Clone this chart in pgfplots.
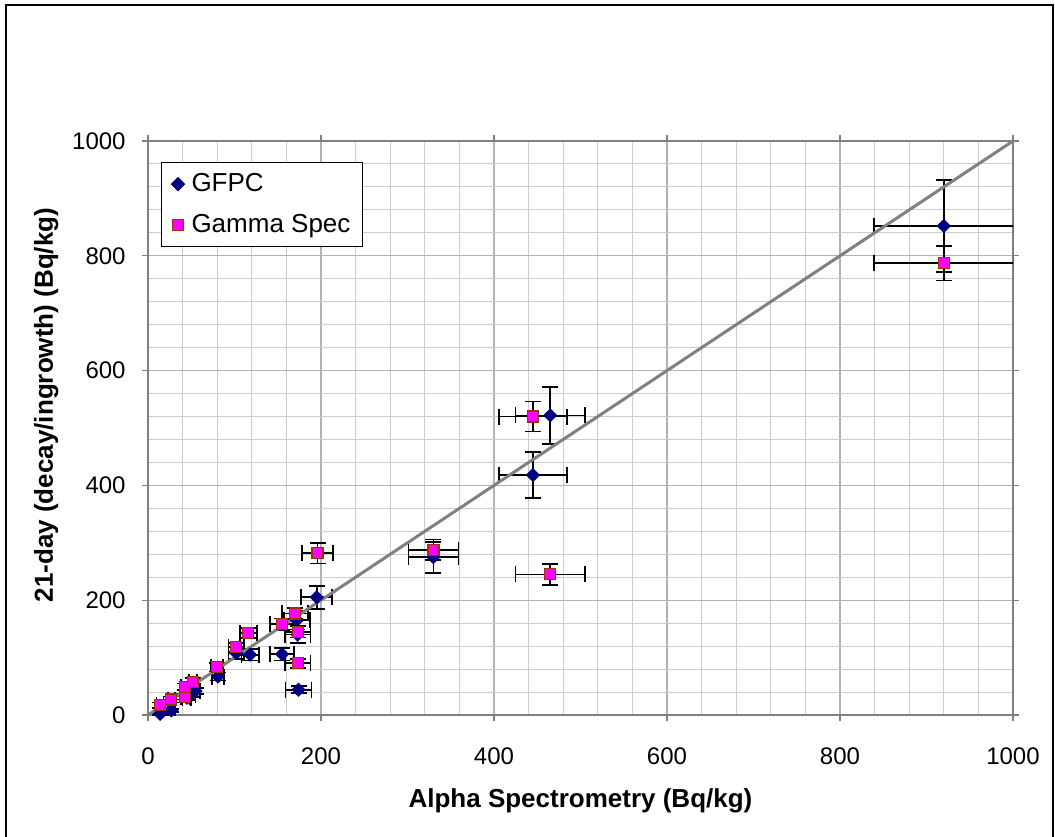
\documentclass[border=0pt]{standalone}
\usepackage{pgfplots}
\usepackage{pgfplotstable}
\pgfplotsset{compat=1.18}
\usepackage{fontspec}
\setmainfont{Liberation Sans}
\definecolor{gfpc}{HTML}{000080}
\definecolor{gmag}{HTML}{FF00FF}
\definecolor{gbrd}{HTML}{993300}

\pgfplotstableread{
x y ex ey
14 2 4 2
27 8 4 3
45 30 5 4
50 35 5 4
55 42 5 5
81 67 7 7
102 108 9 10
118 105 10 10
155 106 14 11
172 165 15 16
173 140 15 14
174 44 15 6
195 205 18 20
330 275 29 27
445 418 39 40
465 522 40 50
920 852 81 80
}\gfpcdata

\pgfplotstableread{
x y ex ey
14 17 4 5
27 27 4 5
43 32 5 5
43 49 5 6
52 58 5 6
80 83 7 7
102 118 9 8
116 143 10 9
155 158 14 10
170 177 15 10
173 145 15 10
173 90 15 8
196 282 18 18
330 288 29 18
445 520 39 26
465 245 40 18
920 787 81 30
}\gammadata

\begin{document}
\begin{tikzpicture}
\path[use as bounding box] (-74pt,-60.5pt) rectangle (453.5pt,357.5pt);
\draw[black, line width=1pt] (-71pt,-70pt) -- (-71pt,355pt) -- (452.5pt,355pt) -- (452.5pt,-70pt);
\begin{axis}[
  at={(0,0)}, anchor=south west, scale only axis,
  width=432.5pt, height=287pt,
  xmin=0, xmax=1000, ymin=0, ymax=1000,
  xtick={0,200,...,1000}, ytick={0,200,...,1000},
  minor tick num=4,
  grid=both,
  minor grid style={black!20, line width=0.5pt},
  major grid style={black!30, line width=0.55pt},
  axis line style={black!50, line width=1pt},
  tick align=outside, major tick length=3pt, minor tick length=0pt,
  tick style={black!50, line width=0.6pt},
  /pgf/number format/assume math mode=true,
  /pgf/number format/1000 sep={},
  ticklabel style={font=\fontsize{12}{14}\selectfont},
  xticklabel style={inner sep=0pt, anchor=north, yshift=-13pt},
  yticklabel style={inner sep=0pt, anchor=east, xshift=-8pt},
  xlabel={Alpha Spectrometry (Bq/kg)},
  ylabel={21-day (decay/ingrowth) (Bq/kg)},
  label style={font=\bfseries\fontsize{13}{15}\selectfont},
  xlabel style={at={(axis description cs:0.5,-0.162)}, anchor=base},
  ylabel style={at={(axis description cs:-0.11,0.54)}, anchor=base},
  legend style={at={(axis description cs:0,1)}, anchor=north west, xshift=6.5pt, yshift=-10.5pt,
    draw=black, line width=0.5pt, fill=white, font=\fontsize{13}{15}\selectfont,
    inner xsep=5pt, inner ysep=4.5pt, row sep=8pt, column sep=2.5pt, nodes={inner sep=1pt}},
  legend cell align=left,
]
\addplot[only marks, mark=square*, mark size=2.3pt,
  mark options={rotate=45, fill=gfpc, draw=gfpc},
  error bars/.cd, x dir=both, x explicit, y dir=both, y explicit,
  error bar style={black, line width=0.85pt},
  error mark options={rotate=90, black, mark size=4pt, line width=0.85pt}]
  table[x=x, y=y, x error=ex, y error=ey]{\gfpcdata};
\addlegendentry{GFPC}
\addplot[only marks, mark=square*, mark size=2.75pt,
  mark options={fill=gmag, draw=gbrd, line width=0.6pt},
  error bars/.cd, x dir=both, x explicit, y dir=both, y explicit,
  error bar style={black, line width=0.85pt},
  error mark options={rotate=90, black, mark size=4pt, line width=0.85pt}]
  table[x=x, y=y, x error=ex, y error=ey]{\gammadata};
\addlegendentry{Gamma Spec}
\addplot[black!50, line width=1.5pt, forget plot] coordinates {(0,0) (1000,1000)};
\end{axis}
\end{tikzpicture}
\end{document}
